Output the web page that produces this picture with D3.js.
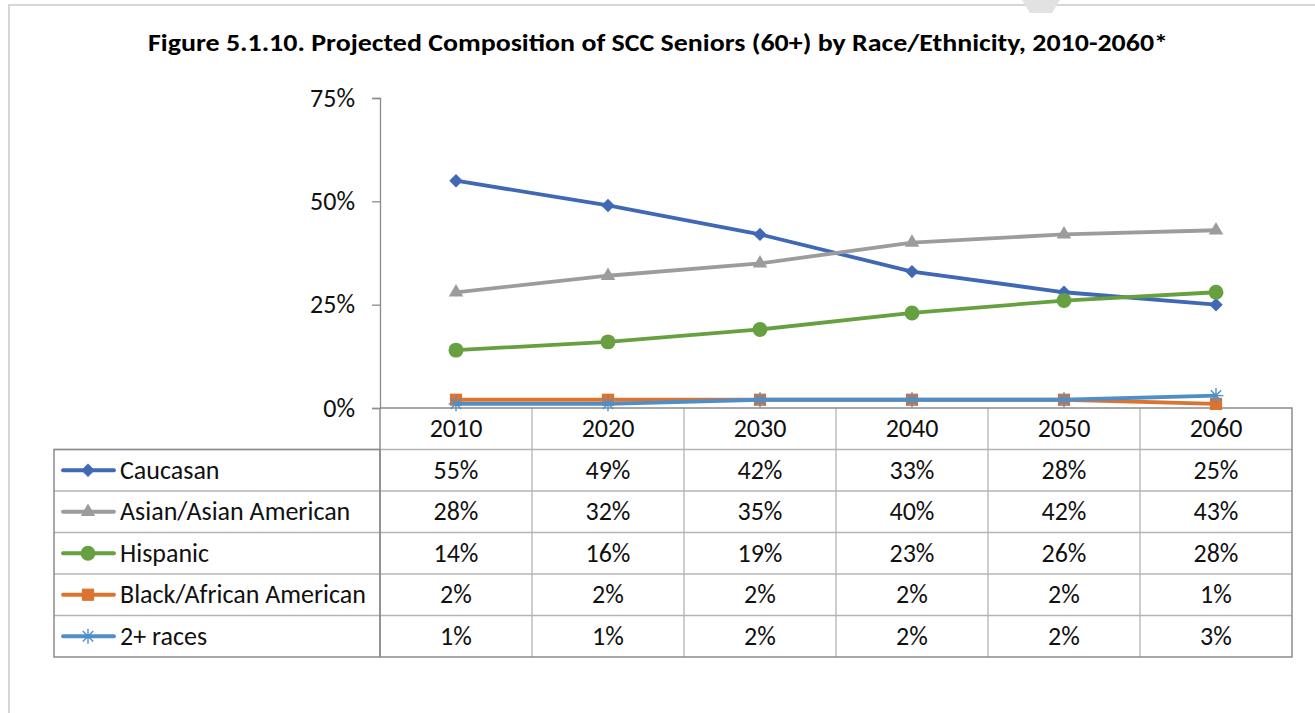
<!DOCTYPE html>
<html>
<meta charset="utf-8">
<head>
    <title>Figure 5.1.10</title>
    <style>
    body { margin: 0; background: #fff; }
    svg { display: block; font-family: Carlito, "Open Sans", "Noto Sans", sans-serif; }
    </style>
<script src="https://d3js.org/d3.v7.min.js"></script>
</head>
<body>
<svg></svg>
<script>

var width = 1315, height = 713;

// data
var years = ["2010", "2020", "2030", "2040", "2050", "2060"];
var seriesNames = ["Caucasan", "Asian/Asian American", "Hispanic", "Black/African American", "2+ races"];
var caucasan = [55, 49, 42, 33, 28, 25];
var asian = [28, 32, 35, 40, 42, 43];
var hispanic = [14, 16, 19, 23, 26, 28];
var black = [2, 2, 2, 2, 2, 1];
var multi = [1, 1, 2, 2, 2, 3];
var yTicks = [0, 25, 50, 75];

var seriesValues = [caucasan, asian, hispanic, black, multi];
var colors = ["#4068b4", "#9c9c9c", "#66a040", "#dc7430", "#4f8fc8"];
var symbols = ["diamond", "triangle", "circle", "square", "asterisk"];

var fontSize = 26;

var svg = d3.select("svg")
    .attr("width", width)
    .attr("height", height);

// page frame
svg.append("path")
    .attr("d", "M9,713 V5 H1315")
    .attr("fill", "none")
    .attr("stroke", "#d6d6d6")
    .attr("stroke-width", 2);
svg.append("path")
    .attr("d", "M1022,0 L1030,13 L1052,13 L1060,0 Z")
    .attr("fill", "#e2e2e2");

svg.append("text")
    .attr("x", 658)
    .attr("y", 51)
    .attr("text-anchor", "middle")
    .attr("font-weight", "bold")
    .attr("font-size", 24)
    .attr("textLength", 1020)
    .attr("lengthAdjust", "spacingAndGlyphs")
    .text("Figure 5.1.10. Projected Composition of SCC Seniors (60+) by Race/Ethnicity, 2010-2060*");

var x = d3.scaleBand()
    .domain(years)
    .range([380, 1292]);

var y = d3.scaleLinear()
    .domain([0, 75])
    .range([408, 98]);

// y axis
var yAxis = svg.append("g")
    .attr("transform", "translate(380,0)")
    .call(d3.axisLeft(y)
        .tickValues(yTicks)
        .tickSize(8)
        .tickPadding(17)
        .tickFormat(d => d + "%"));
yAxis.select(".domain").attr("stroke", "#8c8c8c").attr("stroke-width", 1.3);
yAxis.selectAll(".tick line").attr("stroke", "#8c8c8c").attr("stroke-width", 1.3);
yAxis.selectAll(".tick text")
    .attr("font-size", fontSize)
    .attr("fill", "#111")
    .attr("font-family", "Carlito, 'Open Sans', 'Noto Sans', sans-serif");

// data table
var tableTop = 408, rowH = 41.5, tableLeft = 54, tableRight = 1292;
var rowTop = i => tableTop + rowH * (i + 1);
var tableBottom = rowTop(seriesNames.length);
var grid = svg.append("g").attr("fill", "none");

// horizontal lines
grid.selectAll("line.h")
    .data(d3.range(seriesNames.length))
    .enter().append("line")
    .attr("x1", tableLeft)
    .attr("x2", tableRight)
    .attr("y1", d => rowTop(d))
    .attr("y2", d => rowTop(d))
    .attr("stroke", "#b4b4b4")
    .attr("stroke-width", 1.3);

// vertical lines for year columns
grid.selectAll("line.v")
    .data(years.slice(1))
    .enter().append("line")
    .attr("x1", d => x(d))
    .attr("x2", d => x(d))
    .attr("y1", tableTop)
    .attr("y2", tableBottom)
    .attr("stroke", "#b4b4b4")
    .attr("stroke-width", 1.3);

// outer border
grid.append("path")
    .attr("d", "M380," + tableTop + " H" + tableRight + " V" + tableBottom +
        " H" + tableLeft + " V" + rowTop(0) + " H380 V" + tableBottom)
    .attr("stroke", "#8c8c8c")
    .attr("stroke-width", 1.5);
grid.append("line")
    .attr("x1", 380).attr("x2", 380)
    .attr("y1", tableTop).attr("y2", tableBottom)
    .attr("stroke", "#8c8c8c").attr("stroke-width", 1.5);

// header years
svg.append("g").selectAll("text")
    .data(years)
    .enter().append("text")
    .attr("x", d => x(d) + x.bandwidth() / 2)
    .attr("y", tableTop + rowH / 2 + 8.5)
    .attr("text-anchor", "middle")
    .attr("font-size", fontSize)
    .attr("fill", "#111")
    .text(d => d);

function marker(g, type, color, size) {
    if (type === "asterisk") {
        var r = size / 2;
        g.append("path")
            .attr("d", "M" + (-r) + ",0H" + r + "M0," + (-r) + "V" + r +
                "M" + (-r * 0.7) + "," + (-r * 0.7) + "L" + (r * 0.7) + "," + (r * 0.7) +
                "M" + (-r * 0.7) + "," + (r * 0.7) + "L" + (r * 0.7) + "," + (-r * 0.7))
            .attr("stroke", color)
            .attr("stroke-width", 1.4)
            .attr("fill", "none");
        return;
    }
    var sym = {
        diamond: d3.symbolDiamond2,
        triangle: d3.symbolTriangle2,
        circle: d3.symbolCircle,
        square: d3.symbolSquare2
    }[type];
    var area = {diamond: 115, triangle: 150, circle: 175, square: 190}[type];
    g.append("path")
        .attr("d", d3.symbol(sym, area)())
        .attr("fill", color)
        .attr("stroke", "none");
}

// rows: legend key, label and values
seriesNames.forEach((name, i) => {
    var top = rowTop(i);
    var cy = top + rowH / 2;
    var key = svg.append("g");
    key.append("line")
        .attr("x1", 63).attr("x2", 114)
        .attr("y1", cy).attr("y2", cy)
        .attr("stroke", colors[i])
        .attr("stroke-width", 3.8)
        .attr("stroke-linecap", "round");
    marker(key.append("g").attr("transform", "translate(88," + cy + ")"), symbols[i], colors[i], 15);
    svg.append("text")
        .attr("x", 120)
        .attr("y", cy + 8.5)
        .attr("font-size", fontSize)
        .attr("fill", "#111")
        .text(name);
    svg.append("g").selectAll("text")
        .data(seriesValues[i])
        .enter().append("text")
        .attr("x", (d, j) => x(years[j]) + x.bandwidth() / 2)
        .attr("y", cy + 8.5)
        .attr("text-anchor", "middle")
        .attr("font-size", fontSize)
        .attr("fill", "#111")
        .text(d => d + "%");
});

// lines and markers
var line = d3.line()
    .x((d, j) => x(years[j]) + x.bandwidth() / 2)
    .y(d => y(d));

seriesValues.forEach((vals, i) => {
    var g = svg.append("g");
    g.append("path")
        .attr("d", line(vals))
        .attr("fill", "none")
        .attr("stroke", colors[i])
        .attr("stroke-width", 3.8)
        .attr("stroke-linejoin", "round");
    vals.forEach((v, j) => {
        marker(g.append("g").attr("transform",
            "translate(" + (x(years[j]) + x.bandwidth() / 2) + "," + y(v) + ")"),
            symbols[i], colors[i], 15);
    });
});

</script>
</body>
</html>
